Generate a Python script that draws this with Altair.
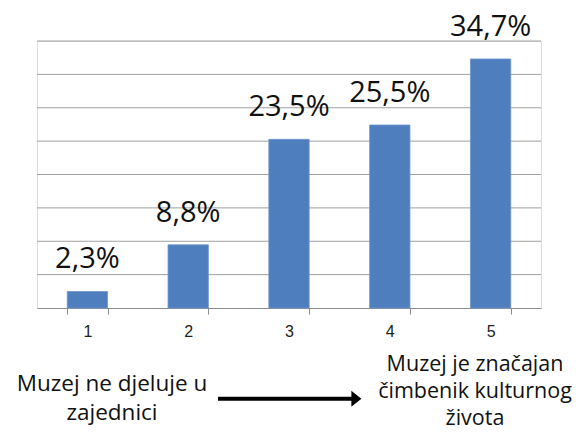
import altair as alt
import pandas as pd

categories = ["1", "2", "3", "4", "5"]
values = [2.3, 8.8, 23.5, 25.5, 34.7]
value_labels = ["2,3%", "8,8%", "23,5%", "25,5%", "34,7%"]
grid_values = [4.65, 9.3, 13.95, 18.6, 23.25, 27.9, 32.55, 37.2]
left_note = ["Muzej ne djeluje u", "zajednici"]
right_note = ["Muzej je značajan", "čimbenik kulturnog", "života"]

df = pd.DataFrame({"cat": categories, "val": values, "lab": value_labels})
grid_df = pd.DataFrame({"g": grid_values})

W, H = 504, 267
yscale = alt.Scale(domain=[0, 37.2], nice=False, zero=True)

x = alt.X("cat:N", sort=categories, title=None,
          scale=alt.Scale(paddingInner=0.6, paddingOuter=0.3),
          axis=alt.Axis(labelAngle=0, labelFont="Liberation Sans", labelFontSize=16,
                        labelColor="#222222", labelPadding=9, tickBand="extent",
                        tickSize=6, tickColor="#8c8c8c", domainColor="#8c8c8c",
                        grid=False))
y = alt.Y("val:Q", title=None, scale=yscale, axis=None)

grid = alt.Chart(grid_df).mark_rule(color="#a0a0a0", strokeWidth=1).encode(
    y=alt.Y("g:Q", scale=yscale, axis=None))

bars = alt.Chart(df).mark_bar(color="#4F7EBF", stroke="#6d95cf", strokeWidth=0.8).encode(x=x, y=y)

labels = alt.Chart(df).mark_text(font="Open Sans", fontSize=29, color="#111111",
                                 baseline="alphabetic", align="center", dy=-23).encode(
    x=alt.X("cat:N", sort=categories), y=alt.Y("val:Q", scale=yscale), text="lab:N")

one = pd.DataFrame({"k": [0]})

left_text = alt.Chart(one).mark_text(
    text=left_note, font="Open Sans", fontSize=22.5, color="#111111",
    align="center", baseline="alphabetic", lineHeight=29.5).encode(
    x=alt.value(75), y=alt.value(349.5))

right_text = alt.Chart(one).mark_text(
    text=right_note, font="Open Sans", fontSize=21.5, color="#111111",
    align="center", baseline="alphabetic", lineHeight=27).encode(
    x=alt.value(438), y=alt.value(330))

arrow_line = alt.Chart(one).mark_rule(
    color="black", strokeWidth=4).encode(
    x=alt.value(181), x2=alt.value(316), y=alt.value(357.7))

arrow_head = alt.Chart(one).mark_point(
    shape="M-0.625,-1 L0.625,0 L-0.625,1 Z", filled=True, color="black",
    size=256, opacity=1).encode(x=alt.value(319.4), y=alt.value(357.7))

chart = alt.layer(grid, bars, labels, left_text, right_text, arrow_line, arrow_head).properties(
    width=W, height=H,
    padding={"left": 29, "top": 33, "right": 33, "bottom": 119},
    autosize=alt.AutoSizeParams(type="none"),
).configure_view(stroke=None).configure(background="white")

chart.save("out.html", embed_options={"renderer": "svg", "actions": False})
